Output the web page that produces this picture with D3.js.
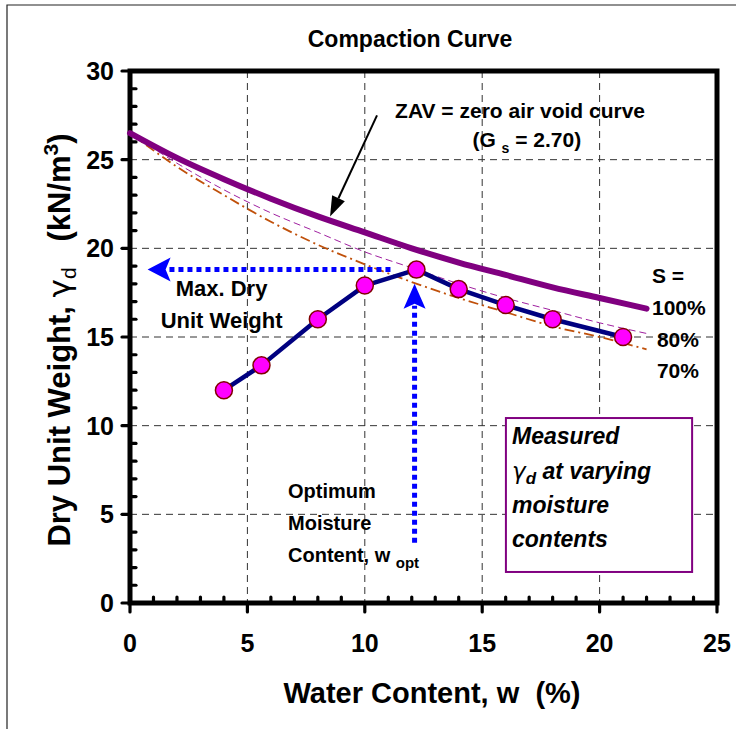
<!DOCTYPE html>
<html>
<head>
<meta charset="utf-8">
<script src="https://cdn.jsdelivr.net/npm/d3@7"></script>
<style>
  html, body { margin: 0; padding: 0; background: #fff; }
  svg { display: block; }
  text { font-family: "Liberation Sans", Arial, sans-serif; font-weight: bold; fill: #000; }
</style>
</head>
<body>
<svg id="chart" width="736" height="729"></svg>
<script>
// Water content grid (%) for the saturation curves
const wCurve = [0, 2, 4, 6, 8, 10, 12, 14, 16, 18, 20, 22];
// Dry unit weight (kN/m3) at S = 100% (zero air voids), 80% and 70%
const gammaS100 = [26.5, 25.1, 23.9, 22.8, 21.8, 20.9, 20.0, 19.2, 18.5, 17.8, 17.2, 16.6];
const gammaS80  = [26.5, 24.8, 23.3, 22.0, 20.9, 19.8, 18.9, 18.0, 17.2, 16.5, 15.8, 15.2];
const gammaS70  = [26.5, 24.6, 23.0, 21.5, 20.2, 19.1, 18.1, 17.2, 16.4, 15.6, 15.0, 14.3];

// Laboratory compaction test results
const wMeasured = [4, 5.6, 8, 10, 12.2, 14, 16, 18, 21];
const gammaMeasured = [12.0, 13.4, 16.0, 17.9, 18.8, 17.7, 16.8, 16.0, 15.0];

// Axis ticks
const xTicks = [0, 5, 10, 15, 20, 25];
const yTicks = [0, 5, 10, 15, 20, 25, 30];
const saturationLabels = ["S =", "100%", "80%", "70%"];

const svg = d3.select("#chart");
const x = d3.scaleLinear().domain([0, 25]).range([130, 717]);
const y = d3.scaleLinear().domain([0, 30]).range([603, 71]);

// outer frame (left and top edges)
svg.append("path").attr("d", "M7,729V5H736").attr("fill", "none")
  .attr("stroke", "#222").attr("stroke-width", 1.2);

// title
svg.append("text").attr("x", 410).attr("y", 47).attr("text-anchor", "middle")
  .style("font-size", "23px").text("Compaction Curve");

// dashed gridlines
const grid = svg.append("g").attr("stroke", "#333").attr("stroke-width", 1)
  .attr("stroke-dasharray", "7,5");
grid.selectAll("line.v").data(xTicks.slice(1, -1)).join("line")
  .attr("x1", d => x(d)).attr("x2", d => x(d)).attr("y1", y(30)).attr("y2", y(0));
grid.selectAll("line.h").data(yTicks.slice(1, -1)).join("line")
  .attr("y1", d => y(d)).attr("y2", d => y(d)).attr("x1", x(0)).attr("x2", x(25));

// minor ticks (inside) and major ticks (outside)
const minorX = d3.range(1, 25).filter(d => d % 5 !== 0);
const minorY = d3.range(1, 30).filter(d => d % 5 !== 0);
const ticks = svg.append("g").attr("stroke", "#000").attr("stroke-width", 3.2).attr("stroke-linecap", "round");
ticks.selectAll("line.mx").data(minorX).join("line")
  .attr("x1", d => x(d)).attr("x2", d => x(d)).attr("y1", y(0)).attr("y2", y(0) - 6);
ticks.selectAll("line.my").data(minorY).join("line")
  .attr("y1", d => y(d)).attr("y2", d => y(d)).attr("x1", x(0)).attr("x2", x(0) + 6);
ticks.selectAll("line.Mx").data(xTicks).join("line")
  .attr("x1", d => x(d)).attr("x2", d => x(d)).attr("y1", y(0)).attr("y2", y(0) + 9);
ticks.selectAll("line.My").data(yTicks).join("line")
  .attr("y1", d => y(d)).attr("y2", d => y(d)).attr("x1", x(0)).attr("x2", x(0) - 8);

// plot frame
svg.append("rect").attr("x", x(0)).attr("y", y(30))
  .attr("width", x(25) - x(0)).attr("height", y(0) - y(30))
  .attr("fill", "none").attr("stroke", "#000").attr("stroke-width", 5);

// tick labels
svg.append("g").selectAll("text").data(xTicks).join("text")
  .attr("x", d => x(d)).attr("y", y(0) + 49).attr("text-anchor", "middle")
  .style("font-size", "25px").text(d => d);
svg.append("g").selectAll("text").data(yTicks).join("text")
  .attr("x", x(0) - 16).attr("y", d => y(d) + 9).attr("text-anchor", "end")
  .style("font-size", "25px").text(d => d);

// axis titles
svg.append("text").attr("x", 432).attr("y", 703).attr("text-anchor", "middle")
  .style("font-size", "29px").text("Water Content, w\u00a0\u00a0(%)");
const yt = svg.append("text").attr("transform", "translate(70,340) rotate(-90)")
  .attr("text-anchor", "middle").style("font-size", "31px");
yt.append("tspan").text("Dry Unit Weight, ");
yt.append("tspan").style("font-family", "DejaVu Sans").style("font-weight", "normal").text("γ");
yt.append("tspan").attr("dy", 6).style("font-size", "21px").style("font-weight", "normal").text("d");
yt.append("tspan").attr("dy", -6).text("\u00a0\u00a0\u00a0(kN/m");
yt.append("tspan").attr("dy", -12).style("font-size", "21px").text("3");
yt.append("tspan").attr("dy", 12).text(")");

// saturation curves
const line = d3.line().x(d => x(d[0])).y(d => y(d[1])).curve(d3.curveMonotoneX);
const pairs = g => wCurve.map((w, i) => [w, g[i]]);
svg.append("path").attr("d", line(pairs(gammaS70))).attr("fill", "none")
  .attr("stroke", "#c0500a").attr("stroke-width", 1.8).attr("stroke-dasharray", "10,4,2,4");
svg.append("path").attr("d", line(pairs(gammaS80))).attr("fill", "none")
  .attr("stroke", "#a020a0").attr("stroke-width", 1).attr("stroke-dasharray", "7,4");
svg.append("path").attr("d", line(pairs(gammaS100))).attr("fill", "none")
  .attr("stroke", "#800080").attr("stroke-width", 6).attr("stroke-linecap", "round");

// compaction test curve
const measured = wMeasured.map((w, i) => [w, gammaMeasured[i]]);
svg.append("path").attr("d", d3.line().x(d => x(d[0])).y(d => y(d[1]))(measured))
  .attr("fill", "none").attr("stroke", "#000080").attr("stroke-width", 4.5)
  .attr("stroke-linejoin", "round");

// optimum point for the arrows
const iMax = d3.maxIndex(gammaMeasured);
const wOpt = wMeasured[iMax], gMax = gammaMeasured[iMax];

// blue dotted arrows to max dry unit weight and optimum moisture content
const blue = "#0000ff";
svg.append("line").attr("x1", x(wOpt) - 26).attr("x2", x(0.75) + 20)
  .attr("y1", y(gMax)).attr("y2", y(gMax))
  .attr("stroke", blue).attr("stroke-width", 5).attr("stroke-dasharray", "5,4");
svg.append("path").attr("fill", blue)
  .attr("d", `M${x(0.75)},${y(gMax)}L${x(0.75) + 23},${y(gMax) - 12}L${x(0.75) + 18},${y(gMax)}L${x(0.75) + 23},${y(gMax) + 12}Z`);
const wArrow = wOpt - 0.08;
svg.append("line").attr("x1", x(wArrow)).attr("x2", x(wArrow))
  .attr("y1", y(3.4)).attr("y2", y(18.0) + 22)
  .attr("stroke", blue).attr("stroke-width", 5).attr("stroke-dasharray", "5,4");
svg.append("path").attr("fill", blue)
  .attr("d", `M${x(wArrow)},${y(18.0)}L${x(wArrow) - 11},${y(18.0) + 25}L${x(wArrow)},${y(18.0) + 20}L${x(wArrow) + 11},${y(18.0) + 25}Z`);

// markers
svg.append("g").selectAll("circle").data(measured).join("circle")
  .attr("cx", d => x(d[0])).attr("cy", d => y(d[1])).attr("r", 8.5)
  .attr("fill", "#ff00ff").attr("stroke", "#800000").attr("stroke-width", 1.5);

// black arrow pointing to the ZAV curve
const a0 = [x(10.52), y(27.5)], a1 = [x(8.52), y(21.8)];
const ang = Math.atan2(a1[1] - a0[1], a1[0] - a0[0]);
const hl = 20, hw = 7;
const bx = a1[0] - hl * Math.cos(ang), by = a1[1] - hl * Math.sin(ang);
svg.append("line").attr("x1", a0[0]).attr("y1", a0[1]).attr("x2", bx).attr("y2", by)
  .attr("stroke", "#000").attr("stroke-width", 2);
svg.append("path").attr("fill", "#000").attr("d",
  `M${a1[0]},${a1[1]}L${bx - hw * Math.sin(ang)},${by + hw * Math.cos(ang)}L${bx + hw * Math.sin(ang)},${by - hw * Math.cos(ang)}Z`);

// annotations
svg.append("text").attr("x", x(11.29)).attr("y", y(27.35)).style("font-size", "21px")
  .text("ZAV = zero air void curve");
const gs = svg.append("text").attr("x", x(16.9)).attr("y", y(25.7)).attr("text-anchor", "middle")
  .style("font-size", "21px");
gs.append("tspan").text("(G\u00a0");
gs.append("tspan").attr("dy", 6).style("font-size", "14px").text("s");
gs.append("tspan").attr("dy", -6).text(" = 2.70)");

const satY = [18.05, 16.24, 14.44, 12.69];
const satX = [22.23, 22.23, 22.44, 22.44];
svg.append("g").selectAll("text").data(saturationLabels).join("text")
  .attr("x", (d, i) => x(satX[i])).attr("y", (d, i) => y(satY[i]))
  .style("font-size", "21px").text(d => d);

svg.append("text").attr("x", x(3.9)).attr("y", y(17.3)).attr("text-anchor", "middle")
  .style("font-size", "22px").text("Max. Dry");
svg.append("text").attr("x", x(3.9)).attr("y", y(15.5)).attr("text-anchor", "middle")
  .style("font-size", "22px").text("Unit Weight");

const opt = svg.append("g").style("font-size", "20px");
opt.append("text").attr("x", x(6.73)).attr("y", y(5.92)).text("Optimum");
opt.append("text").attr("x", x(6.73)).attr("y", y(4.12)).text("Moisture");
const ct = opt.append("text").attr("x", x(6.73)).attr("y", y(2.31));
ct.append("tspan").text("Content, w\u00a0");
ct.append("tspan").attr("dy", 6).style("font-size", "15px").text("opt");

// legend box for the measured points
svg.append("rect").attr("x", x(16.01)).attr("y", y(10.43))
  .attr("width", x(23.94) - x(16.01)).attr("height", y(1.75) - y(10.43))
  .attr("fill", "#fff").attr("stroke", "#800080").attr("stroke-width", 2);
const box = svg.append("g").style("font-size", "23px").style("font-style", "italic");
box.append("text").attr("x", x(16.27)).attr("y", y(8.98)).text("Measured");
const gl = box.append("text").attr("x", x(16.27)).attr("y", y(7.0));
gl.append("tspan").style("font-family", "DejaVu Sans").style("font-weight", "normal").text("γ");
gl.append("tspan").attr("dy", 5).style("font-size", "17px").text("d");
gl.append("tspan").attr("dy", -5).text(" at varying");
box.append("text").attr("x", x(16.27)).attr("y", y(5.08)).text("moisture");
box.append("text").attr("x", x(16.27)).attr("y", y(3.16)).text("contents");
</script>
</body>
</html>
